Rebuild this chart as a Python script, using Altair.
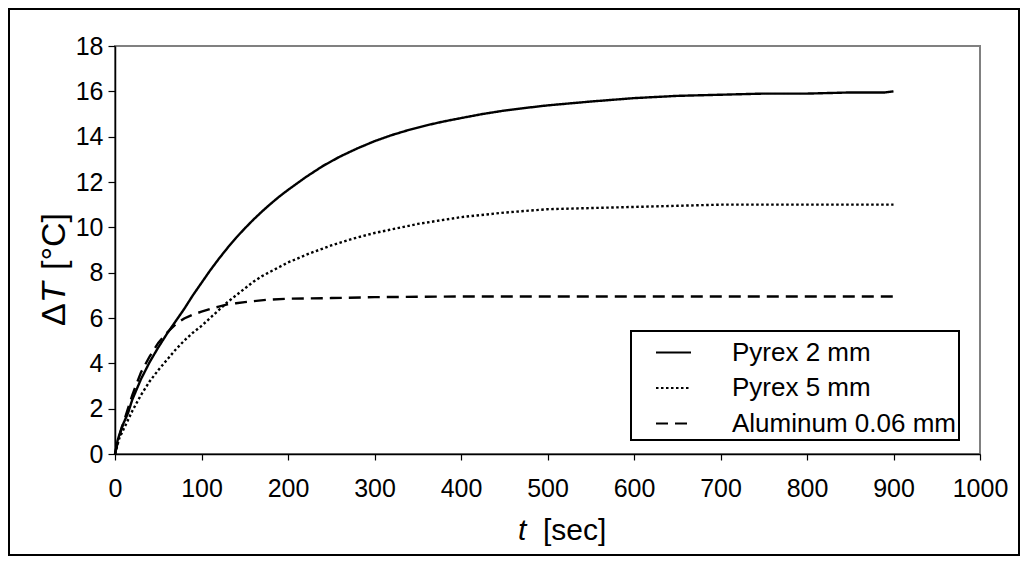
import altair as alt
import pandas as pd

series_names = ["Pyrex 2 mm", "Pyrex 5 mm", "Aluminum 0.06 mm"]

t_pyrex2 = [0, 3, 8, 15, 20, 30, 40, 50, 60, 70, 80, 90, 100, 110, 120, 130, 140, 150, 160, 170,
            180, 190, 200, 220, 240, 260, 280, 300, 320, 340, 360, 380, 400, 425, 450, 475, 500,
            550, 600, 650, 700, 750, 800, 850, 890, 900]
dT_pyrex2 = [0, 0.6, 1.2, 1.8, 2.4, 3.3, 4.05, 4.7, 5.3, 5.85, 6.4, 7.0, 7.55, 8.1, 8.61, 9.09,
             9.54, 9.95, 10.34, 10.7, 11.04, 11.36, 11.65, 12.2, 12.7, 13.12, 13.48, 13.8, 14.07,
             14.3, 14.5, 14.67, 14.82, 15.0, 15.15, 15.27, 15.38, 15.55, 15.7, 15.8, 15.85, 15.9,
             15.9, 15.95, 15.95, 16.0]

t_pyrex5 = [0, 5, 10, 20, 30, 40, 50, 60, 70, 80, 90, 100, 110, 120, 130, 140, 150, 160, 170, 180,
            190, 200, 225, 250, 275, 300, 325, 350, 375, 400, 450, 500, 550, 600, 650, 700, 800, 900]
dT_pyrex5 = [0, 0.7, 1.1, 1.9, 2.6, 3.2, 3.7, 4.15, 4.6, 5.0, 5.35, 5.65, 6.0, 6.35, 6.7, 7.0, 7.3,
             7.6, 7.85, 8.05, 8.25, 8.45, 8.85, 9.2, 9.5, 9.75, 9.95, 10.15, 10.3, 10.45, 10.65,
             10.8, 10.85, 10.9, 10.95, 11.0, 11.0, 11.0]

t_alu = [0, 5, 10, 20, 30, 40, 50, 60, 70, 80, 90, 100, 110, 120, 130, 140, 150, 175, 200, 250,
         300, 400, 500, 600, 700, 800, 900]
dT_alu = [0, 0.8, 1.4, 2.6, 3.6, 4.3, 4.9, 5.35, 5.72, 5.98, 6.15, 6.28, 6.4, 6.5, 6.6, 6.65, 6.7,
          6.8, 6.85, 6.88, 6.92, 6.95, 6.95, 6.95, 6.95, 6.95, 6.95]

x_ticks = list(range(0, 1001, 100))
y_ticks = list(range(0, 19, 2))

x_title_parts = ["t", "[sec]"]
y_title_parts = ["Δ", "T", "[°C]"]

rows = []
for name, ts, vs in zip(series_names, [t_pyrex2, t_pyrex5, t_alu], [dT_pyrex2, dT_pyrex5, dT_alu]):
    for t, v in zip(ts, vs):
        rows.append({"t": t, "dT": v, "series": name})
df = pd.DataFrame(rows)

FONT = "Liberation Sans"

lines = alt.Chart(df).mark_line(color="black", strokeWidth=2.4, strokeCap="butt").encode(
    x=alt.X("t:Q", scale=alt.Scale(domain=[0, 1000], nice=False),
            axis=alt.Axis(values=x_ticks, title=None, labelPadding=16, tickSize=6, format="d",
                          labelFlush=False, labelOverlap=False)),
    y=alt.Y("dT:Q", scale=alt.Scale(domain=[0, 18], nice=False),
            axis=alt.Axis(values=y_ticks, title=None, labelPadding=5, tickSize=7, format="d",
                          labelFlush=False, labelOverlap=False)),
    strokeDash=alt.StrokeDash(
        "series:N",
        scale=alt.Scale(domain=series_names, range=[[1, 0], [2.5, 2.5], [12, 7]]),
        legend=alt.Legend(
            title=None, orient="none", legendX=516, legendY=285,
            strokeColor="black", padding=3, symbolOffset=21,
            symbolType="stroke", symbolSize=1225, symbolStrokeWidth=2,
            symbolStrokeColor="black", labelOffset=40, labelFontSize=26,
            labelFont=FONT, labelColor="black", rowPadding=3.5, labelLimit=400,
        ),
    ),
    order="t:Q",
)

frame = alt.Chart(pd.DataFrame({"a": [0]})).mark_rect(
    fillOpacity=0, stroke="black", strokeWidth=2
).encode(x=alt.value(-106), x2=alt.value(904), y=alt.value(-37), y2=alt.value(509))

def text_layer(txt, x, y, size, style="normal", angle=0):
    return alt.Chart(pd.DataFrame({"label": [txt]})).mark_text(
        font=FONT, fontSize=size, fontStyle=style, color="black",
        align="left", baseline="middle", angle=angle,
    ).encode(text="label:N", x=alt.value(x), y=alt.value(y))

xt1 = text_layer(x_title_parts[0], 403, 485, 30, "italic")
xt2 = text_layer(x_title_parts[1], 428, 485, 30)
yt1 = text_layer(y_title_parts[0], -60, 280, 34, "normal", 270)
yt2 = text_layer(y_title_parts[1], -60, 257, 34, "italic", 270)
yt3 = text_layer(y_title_parts[2], -60, 224, 34, "normal", 270)

chart = alt.layer(frame, lines, xt1, xt2, yt1, yt2, yt3).properties(
    width=865, height=408,
    autosize=alt.AutoSizeParams(type="none"),
    padding={"left": 107, "top": 38, "right": 40, "bottom": 102},
).configure_view(stroke="#808080", strokeWidth=2).configure_axis(
    labelFont=FONT, labelFontSize=25, labelColor="black",
    domainColor="black", domainWidth=1.5, tickColor="black", tickWidth=1.2,
    grid=False,
).configure_legend(strokeWidth=2)

chart.save("out.html", embed_options={"renderer": "svg", "actions": False})
